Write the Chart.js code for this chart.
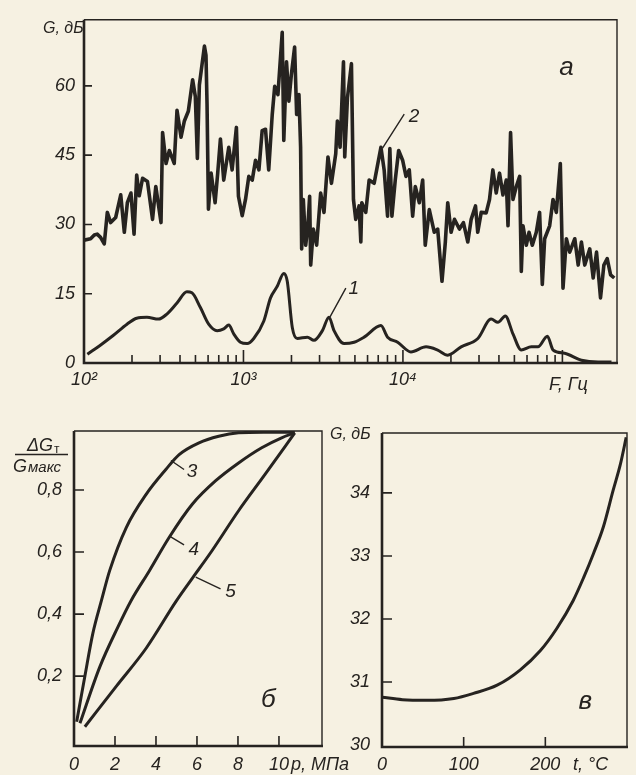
<!DOCTYPE html>
<html lang="ru">
<head>
<meta charset="utf-8">
<title>G(F), ΔGт/Gмакс(p), G(t)</title>
<script src="https://cdn.jsdelivr.net/npm/chart.js@4.4.1/dist/chart.umd.min.js"></script>
<style>
  html, body { margin: 0; padding: 0; }
  body { width: 636px; height: 775px; position: relative; overflow: hidden; background: #f6f1e2; }
  canvas { position: absolute; }
  #chartA { left: 0; top: 0; }
  #chartB { left: 0; top: 400px; }
  #chartC { left: 325px; top: 400px; }
</style>
</head>
<body>
<canvas id="chartA" width="636" height="400"></canvas>
<canvas id="chartC" width="311" height="375"></canvas>
<canvas id="chartB" width="362" height="375"></canvas>
<script>
const ink = '#262320';
const fontFamily = '"Liberation Sans", "DejaVu Sans", sans-serif';

// ---- рис. а : G(F), кривые 1 и 2
const freq1 = [105, 126, 153, 186, 214, 248, 293, 331, 383, 442, 475, 537, 605, 684, 752, 809, 869, 957, 1055, 1160,
  1342, 1478, 1629, 1791, 1882, 2024, 2177, 2515, 2768, 3126, 3438, 3698, 4273, 4939, 5710, 7278, 8011, 9268,
  11220, 13960, 16520, 19100, 23170, 29510, 35730, 39430, 43840, 48980, 55250, 63830, 70310, 80500, 87500,
  103300, 131600, 167500, 203200];
const gain1 = [1.9, 3.8, 6.0, 8.4, 9.7, 9.9, 9.5, 10.6, 13.0, 15.4, 15.2, 12.0, 8.4, 7.0, 7.4, 8.2, 6.3, 4.5, 4.2, 5.3,
  9.1, 14.1, 16.6, 19.4, 17.7, 7.7, 5.3, 5.6, 4.9, 7.0, 9.9, 7.0, 4.2, 4.5, 5.6, 8.1, 5.6, 4.5,
  2.4, 3.5, 2.8, 1.7, 3.5, 5.3, 9.5, 8.8, 10.2, 6.3, 2.8, 3.5, 3.5, 5.8, 2.8,
  2.1, 0.6, 0.2, 0.2];

const freq2 = [100, 110, 116, 121, 127, 134, 140, 147, 158, 170, 179, 187, 197, 206, 214, 222, 233, 250, 269, 282,
  304, 311, 327, 343, 368, 383, 406, 426, 451, 480, 499, 514, 529, 569, 582, 591, 603, 627, 664, 689,
  717, 752, 809, 849, 903, 930, 982, 1030, 1080, 1135, 1190, 1250, 1310, 1375, 1440, 1515, 1570, 1645, 1750, 1790,
  1862, 1927, 1995, 2093, 2155, 2228, 2282, 2317, 2373, 2455, 2535, 2600, 2640, 2742, 2877, 3048, 3199, 3388, 3562, 3790,
  3882, 4036, 4238, 4316, 4488, 4755, 4895, 5058, 5309, 5445, 5521, 5848, 6138, 6596, 7278, 7625, 8011, 8280, 8530, 8950,
  9400, 9955, 10450, 10960, 11510, 11950, 12670, 13300, 13800, 14630, 15730, 16520, 17580, 18450, 19100, 20050, 21040, 22600, 23950, 25520,
  26790, 28510, 29450, 30970, 33270, 34910, 36640, 38460, 40360, 42380, 44460, 45600, 47320, 48980, 51400, 53950, 55250, 56620, 59400, 61760,
  64760, 68580, 71950, 74820, 77410, 83200, 87340, 91620, 97050, 100900, 105900, 111100, 119600, 125600, 131600, 138100, 148500, 156000, 163700, 173400,
  182000, 191000, 200500, 211500];
const gain2 = [26.6, 26.9, 27.7, 27.9, 27.2, 25.8, 32.6, 30.4, 31.5, 36.4, 28.3, 34.7, 36.8, 27.9, 40.7, 36.2, 40.0, 39.3, 31.1, 38.2,
  30.4, 49.9, 43.2, 46.0, 43.2, 54.7, 48.9, 52.4, 54.5, 61.3, 57.7, 44.3, 60.2, 68.6, 66.6, 56.0, 33.3, 41.1, 34.7, 41.0,
  48.5, 39.6, 46.7, 41.8, 51.0, 36.1, 31.9, 35.4, 40.4, 39.6, 43.9, 41.8, 50.3, 50.6, 41.8, 53.8, 59.9, 58.1, 71.6, 48.2,
  65.2, 56.7, 62.3, 68.4, 53.8, 58.1, 46.7, 24.7, 35.4, 25.5, 29.7, 36.1, 21.2, 29.0, 25.5, 36.8, 32.6, 44.6, 38.9, 45.3,
  52.4, 46.7, 65.2, 44.6, 57.4, 64.8, 35.4, 31.1, 34.0, 26.2, 34.7, 32.6, 39.6, 38.9, 46.7, 41.8, 31.8, 46.4, 31.8, 39.6,
  46.0, 43.9, 40.4, 41.8, 31.8, 38.2, 34.7, 39.6, 25.5, 33.2, 28.3, 29.0, 17.7, 26.2, 34.7, 28.3, 31.1, 29.0, 30.4, 26.2,
  31.1, 34.0, 28.3, 32.6, 32.5, 35.4, 41.8, 36.8, 41.1, 36.4, 39.6, 29.7, 49.9, 35.4, 38.2, 40.4, 19.8, 29.7, 25.5, 28.3,
  25.5, 28.3, 32.6, 17.0, 26.9, 29.7, 35.4, 32.6, 43.2, 16.2, 26.9, 24.0, 26.9, 21.2, 26.2, 21.2, 24.7, 18.4, 24.0, 14.1,
  21.2, 22.6, 19.1, 18.4];

const freqTicks = [100, 200, 300, 400, 500, 600, 700, 800, 900, 1000, 2000, 3000, 4000, 5000, 6000, 7000, 8000, 9000,
  10000, 20000, 30000, 40000, 50000, 60000, 70000, 80000, 90000, 100000];
const freqDecades = [100, 1000, 10000, 100000];
const freqLabels = { 100: '10²', 1000: '10³', 10000: '10⁴' };
const gainTicks = [0, 15, 30, 45, 60];

// ---- рис. б : ΔGт/Gмакс(p), кривые 3, 4, 5
const p3 = [0.13, 0.53, 0.92, 1.34, 1.74, 2.55, 3.52, 4.48, 5.13, 6.10, 7.06, 8.03, 9.24, 10.77];
const ratio3 = [0.053, 0.200, 0.338, 0.444, 0.540, 0.679, 0.786, 0.866, 0.914, 0.952, 0.973, 0.984, 0.986, 0.986];
const p4 = [0.29, 1.26, 2.14, 2.79, 3.68, 4.64, 5.77, 6.90, 8.03, 9.16, 10.13, 10.77];
const ratio4 = [0.048, 0.230, 0.358, 0.444, 0.540, 0.647, 0.754, 0.829, 0.887, 0.936, 0.968, 0.984];
const p5 = [0.53, 2.07, 3.52, 4.97, 5.77, 6.74, 8.03, 9.32, 10.77];
const ratio5 = [0.037, 0.168, 0.290, 0.440, 0.515, 0.605, 0.733, 0.850, 0.984];
const pTicks = [0, 2, 4, 6, 8, 10];
const ratioTicks = [0.2, 0.4, 0.6, 0.8];

// ---- рис. в : G(t)
const temp = [0, 25, 55, 88, 112, 141, 169, 194, 214, 234, 247, 259, 271, 283, 292, 299];
const gainT = [30.76, 30.72, 30.71, 30.74, 30.82, 30.95, 31.19, 31.5, 31.85, 32.29, 32.66, 33.04, 33.46, 34.04, 34.46, 34.88];
const tTicks = [0, 100, 200];
const gainTTicks = [30, 31, 32, 33, 34];

const pts = (xs, ys) => xs.map((v, i) => ({ x: v, y: ys[i] }));
const font = size => ({ family: fontFamily, size: size, style: 'italic' });

// рамка, засечки внутрь, выноски и подписи
function paper(cfg) {
  return {
    id: 'paper',
    afterDraw(chart) {
      const { ctx, chartArea: a, scales: { x, y } } = chart;
      const X = v => x.getPixelForValue(v);
      const Y = v => y.getPixelForValue(v);
      ctx.save();
      ctx.strokeStyle = ink;
      ctx.fillStyle = ink;
      ctx.lineWidth = 1.4;
      ctx.beginPath();
      ctx.moveTo(a.left, a.top);
      ctx.lineTo(a.right, a.top);
      ctx.lineTo(a.right, a.bottom);
      ctx.stroke();
      ctx.lineWidth = 2.6;
      ctx.beginPath();
      ctx.moveTo(a.left, a.top);
      ctx.lineTo(a.left, a.bottom);
      ctx.lineTo(a.right + 1, a.bottom);
      ctx.stroke();

      ctx.lineWidth = 1.6;
      ctx.beginPath();
      cfg.xMarks.forEach(v => {
        const len = cfg.xMajor && cfg.xMajor.includes(v) ? cfg.majorLen : cfg.tickLen;
        ctx.moveTo(X(v), a.bottom);
        ctx.lineTo(X(v), a.bottom - len);
      });
      cfg.yMarks.forEach(v => {
        ctx.moveTo(a.left, Y(v));
        ctx.lineTo(a.left + cfg.tickLen, Y(v));
      });
      ctx.stroke();

      ctx.lineWidth = 1.4;
      ctx.beginPath();
      (cfg.leaders || []).forEach(l => {
        ctx.moveTo(X(l[0]), Y(l[1]));
        ctx.lineTo(X(l[2]), Y(l[3]));
      });
      ctx.stroke();

      ctx.textBaseline = 'middle';
      ctx.textAlign = 'center';
      (cfg.notes || []).forEach(n => {
        ctx.font = `italic ${n.size}px ${fontFamily}`;
        ctx.fillText(n.text, X(n.x), Y(n.y));
      });
      ctx.textAlign = 'left';
      if (cfg.captions) cfg.captions(ctx, a);
      ctx.restore();
    }
  };
}

function baseOptions(xScale, yScale, padding) {
  return {
    responsive: false,
    animation: false,
    devicePixelRatio: 1,
    layout: { padding: padding },
    plugins: { legend: { display: false }, tooltip: { enabled: false } },
    elements: { point: { radius: 0 } },
    scales: { x: xScale, y: yScale }
  };
}

function axis(extra) {
  return Object.assign({
    grid: { display: false, drawTicks: false },
    border: { display: false },
  }, extra);
}

// ---------- а
new Chart(document.getElementById('chartA'), {
  type: 'line',
  data: {
    datasets: [
      { data: pts(freq2, gain2), borderColor: ink, borderWidth: 3.6, tension: 0, borderJoinStyle: 'round' },
      { data: pts(freq1, gain1), borderColor: ink, borderWidth: 3, cubicInterpolationMode: 'monotone' }
    ]
  },
  options: baseOptions(
    axis({
      type: 'logarithmic', min: 100, max: 220000,
      afterBuildTicks: s => { s.ticks = freqTicks.map(v => ({ value: v })); },
      afterFit: s => { s.height = 37; },
      ticks: { color: ink, font: font(18), padding: 6, autoSkip: false, maxRotation: 0,
        callback: v => freqLabels[v] || '' }
    }),
    axis({
      type: 'linear', min: 0, max: 74.3,
      afterBuildTicks: s => { s.ticks = gainTicks.map(v => ({ value: v })); },
      afterFit: s => { s.width = 84; },
      ticks: { color: ink, font: font(18), padding: 9 }
    }),
    { top: 14, right: 19, left: 0, bottom: 0 }
  ),
  plugins: [paper({
    xMarks: freqTicks.slice(1), xMajor: freqDecades, majorLen: 13, tickLen: 8,
    yMarks: gainTicks.slice(1),
    leaders: [[4385, 16.2, 3490, 10.0], [10190, 53.9, 7450, 46.5]],
    notes: [
      { text: '1', x: 4920, y: 16.0, size: 19 },
      { text: '2', x: 11720, y: 53.3, size: 19 },
      { text: 'а', x: 106000, y: 64, size: 26 }
    ],
    captions: (ctx, a) => {
      ctx.font = `italic 16px ${fontFamily}`;
      ctx.fillText('G, дБ', a.left - 41, a.top + 9);
      ctx.font = `italic 18px ${fontFamily}`;
      ctx.fillText('F, Гц', a.right - 68, a.bottom + 22);
    }
  })]
});

// ---------- б
new Chart(document.getElementById('chartB'), {
  type: 'line',
  data: {
    datasets: [
      { data: pts(p3, ratio3), borderColor: ink, borderWidth: 3, cubicInterpolationMode: 'monotone' },
      { data: pts(p4, ratio4), borderColor: ink, borderWidth: 3, cubicInterpolationMode: 'monotone' },
      { data: pts(p5, ratio5), borderColor: ink, borderWidth: 3, cubicInterpolationMode: 'monotone' }
    ]
  },
  options: baseOptions(
    axis({
      type: 'linear', min: 0, max: 12.1,
      afterBuildTicks: s => { s.ticks = pTicks.map(v => ({ value: v })); },
      afterFit: s => { s.height = 29; },
      ticks: { color: ink, font: font(18), padding: 8, autoSkip: false, maxRotation: 0 }
    }),
    axis({
      type: 'linear', min: -0.025, max: 0.99,
      afterBuildTicks: s => { s.ticks = ratioTicks.map(v => ({ value: v })); },
      afterFit: s => { s.width = 74; },
      ticks: { color: ink, font: font(18), padding: 12, callback: v => v.toFixed(1).replace('.', ',') }
    }),
    { top: 31, right: 40, left: 0, bottom: 0 }
  ),
  plugins: [paper({
    xMarks: pTicks.slice(1), tickLen: 10,
    yMarks: ratioTicks,
    leaders: [[4.73, 0.895, 5.37, 0.866], [4.64, 0.652, 5.37, 0.623], [5.94, 0.519, 7.15, 0.481]],
    notes: [
      { text: '3', x: 5.76, y: 0.858, size: 19 },
      { text: '4', x: 5.85, y: 0.607, size: 19 },
      { text: '5', x: 7.64, y: 0.473, size: 19 },
      { text: 'б', x: 9.48, y: 0.123, size: 26 }
    ],
    captions: (ctx, a) => {
      ctx.textBaseline = 'alphabetic';
      ctx.font = `italic 18px ${fontFamily}`;
      ctx.fillText('ΔG', 27, 51);
      const w1 = ctx.measureText('ΔG').width;
      ctx.fillText('G', 13, 72);
      const w2 = ctx.measureText('G').width;
      ctx.font = `12px ${fontFamily}`;
      ctx.fillText('т', 27 + w1 + 1, 53);
      ctx.font = `italic 15px ${fontFamily}`;
      ctx.fillText('макс', 13 + w2 + 1, 72);
      ctx.lineWidth = 1.4;
      ctx.beginPath();
      ctx.moveTo(15, 54.5);
      ctx.lineTo(68, 54.5);
      ctx.stroke();
      ctx.textBaseline = 'middle';
      ctx.font = `italic 18px ${fontFamily}`;
      ctx.fillText('p, МПа', a.right - 31, a.bottom + 19);
    }
  })]
});

// ---------- в
new Chart(document.getElementById('chartC'), {
  type: 'line',
  data: {
    datasets: [
      { data: pts(temp, gainT), borderColor: ink, borderWidth: 3, cubicInterpolationMode: 'monotone' }
    ]
  },
  options: baseOptions(
    axis({
      type: 'linear', min: 0, max: 300,
      afterBuildTicks: s => { s.ticks = tTicks.map(v => ({ value: v })); },
      afterFit: s => { s.height = 28; },
      ticks: { color: ink, font: font(18), padding: 7.5, autoSkip: false, maxRotation: 0 }
    }),
    axis({
      type: 'linear', min: 29.97, max: 34.95,
      afterBuildTicks: s => { s.ticks = gainTTicks.map(v => ({ value: v })); },
      afterFit: s => { s.width = 57; },
      ticks: { color: ink, font: font(18), padding: 12 }
    }),
    { top: 33, right: 9, left: 0, bottom: 0 }
  ),
  plugins: [paper({
    xMarks: tTicks.slice(1), tickLen: 10,
    yMarks: gainTTicks.slice(1),
    notes: [{ text: 'в', x: 249, y: 30.69, size: 26 }],
    captions: (ctx, a) => {
      ctx.font = `italic 16px ${fontFamily}`;
      ctx.fillText('G, дБ', a.left - 52, a.top + 2);
      ctx.font = `italic 18px ${fontFamily}`;
      ctx.fillText('t, °C', a.right - 54, a.bottom + 18);
    }
  })]
});
</script>
</body>
</html>
